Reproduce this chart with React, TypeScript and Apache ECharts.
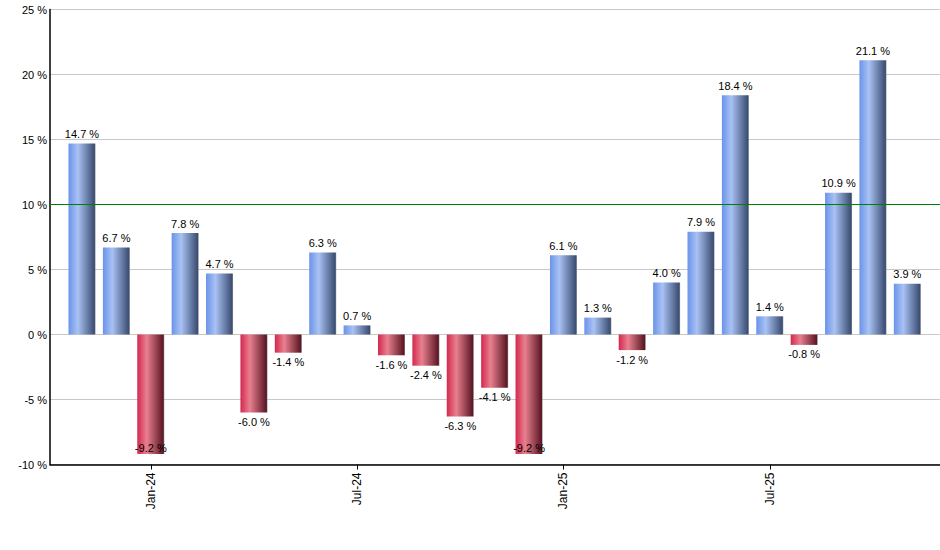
import { useEffect, useRef } from "react";
import * as echarts from "echarts";

// monthly returns, Nov-23 .. Nov-25
const months = [
  "Nov-23", "Dec-23", "Jan-24", "Feb-24", "Mar-24", "Apr-24", "May-24", "Jun-24", "Jul-24",
  "Aug-24", "Sep-24", "Oct-24", "Nov-24", "Dec-24", "Jan-25", "Feb-25", "Mar-25", "Apr-25",
  "May-25", "Jun-25", "Jul-25", "Aug-25", "Sep-25", "Oct-25", "Nov-25",
];
const returns = [
  14.7, 6.7, -9.2, 7.8, 4.7, -6.0, -1.4, 6.3, 0.7, -1.6, -2.4, -6.3, -4.1, -9.2, 6.1, 1.3, -1.2,
  4.0, 7.9, 18.4, 1.4, -0.8, 10.9, 21.1, 3.9,
];
const labelledMonths = [2, 8, 14, 20];
const yTicks = [-10, -5, 0, 5, 10, 15, 20, 25];
const targetLine = 10;

const blueFill = new echarts.graphic.LinearGradient(0, 0, 1, 0, [
  { offset: 0, color: "#6a93e8" },
  { offset: 0.35, color: "#a9c2f4" },
  { offset: 0.96, color: "#3b4d72" },
  { offset: 1, color: "#8a8f99" },
]);
const redFill = new echarts.graphic.LinearGradient(0, 0, 1, 0, [
  { offset: 0, color: "#d4284e" },
  { offset: 0.35, color: "#e8808f" },
  { offset: 0.96, color: "#5c1624" },
  { offset: 1, color: "#8a8a8a" },
]);

export default function App() {
  const ref = useRef<HTMLDivElement | null>(null);

  useEffect(() => {
    const el = ref.current!;
    const chart = echarts.init(el, undefined, { renderer: "svg" });
    const txt = { fontFamily: "Liberation Sans, Arial, sans-serif", fontSize: 11, color: "#000" };

    chart.setOption({
      animation: false,
      grid: { left: 50, right: 0, top: 9.5, bottom: 85.5 },
      xAxis: {
        type: "value",
        min: -0.93,
        max: 24.95,
        splitLine: { show: false },
        axisLine: { onZero: false, lineStyle: { color: "#000", width: 1.5 } },
        axisTick: { show: true, length: 5, lineStyle: { color: "#000" }, customValues: labelledMonths },
        axisLabel: {
          ...txt,
          fontSize: 12,
          rotate: 90,
          margin: 8,
          customValues: labelledMonths,
          formatter: (v: number) => months[Math.round(v)] ?? "",
        },
      },
      yAxis: {
        type: "value",
        min: -10,
        max: 25,
        interval: 5,
        axisLine: { show: true, onZero: false, lineStyle: { color: "#000", width: 1.5 } },
        axisTick: { show: false },
        splitLine: { lineStyle: { color: "#c8c8c8" } },
        axisLabel: { ...txt, margin: 3, formatter: (v: number) => (yTicks.includes(v) ? `${v} %` : "") },
      },
      series: [
        {
          type: "bar",
          barWidth: 27,
          data: returns.map((v, i) => ({
            value: [i, v],
            itemStyle: { color: v >= 0 ? blueFill : redFill },
            label: {
              show: true,
              position: v >= 0 ? "top" : v < -8 ? "insideBottom" : "bottom",
              distance: v < -8 ? 1 : 4,
              ...txt,
              formatter: `${v.toFixed(1)} %`,
            },
          })),
          markLine: {
            silent: true,
            symbol: "none",
            label: { show: false },
            lineStyle: { color: "#008000", width: 1, type: "solid" },
            data: [{ yAxis: targetLine }],
          },
        },
      ],
    });

    return () => chart.dispose();
  }, []);

  return (
    <div
      ref={ref}
      style={{ position: "absolute", left: 0, top: 0, width: 940, height: 550, background: "#fff" }}
    />
  );
}
